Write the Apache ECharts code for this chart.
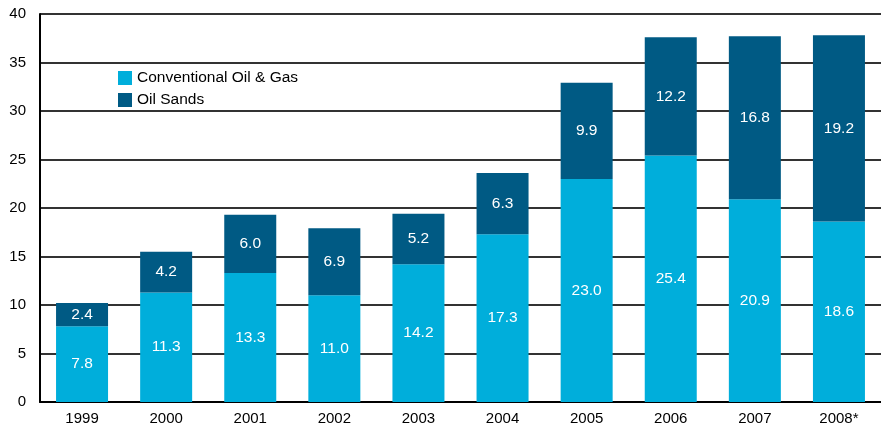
<!DOCTYPE html>
<html>
<head>
<meta charset="utf-8">
<title>Oil & Gas investment</title>
<script src="https://cdn.jsdelivr.net/npm/echarts@6/dist/echarts.min.js"></script>
<style>
	html, body { margin: 0; padding: 0; background: #fff; }
	#chart { width: 881px; height: 428px; }
</style>
</head>
<body>
<div id="chart"></div>
<script>
var years = ['1999', '2000', '2001', '2002', '2003', '2004', '2005', '2006', '2007', '2008*'];
var conventional = [7.8, 11.3, 13.3, 11.0, 14.2, 17.3, 23.0, 25.4, 20.9, 18.6];
var oilSands = [2.4, 4.2, 6.0, 6.9, 5.2, 6.3, 9.9, 12.2, 16.8, 19.2];

var fontFam = '"Liberation Sans", Arial, sans-serif';

function barLabel() {
	return {
		show: true,
		position: 'inside',
		color: '#fff',
		fontSize: 15.5,
		fontFamily: fontFam,
		formatter: function (p) { return p.value.toFixed(1); }
	};
}

var myChart = echarts.init(document.getElementById('chart'));
myChart.setOption({
	animation: false,
	grid: { left: 40, right: 0, top: 14, bottom: 26 },
	legend: {
		orient: 'vertical',
		left: 113,
		top: 65,
		itemWidth: 14,
		itemHeight: 14,
		itemGap: 6,
		icon: 'rect',
		textStyle: { fontSize: 15.5, color: '#000', fontFamily: fontFam },
		data: ['Conventional Oil & Gas', 'Oil Sands']
	},
	xAxis: {
		type: 'category',
		data: years,
		axisTick: { show: false },
		axisLine: { lineStyle: { color: '#000', width: 2 } },
		axisLabel: { color: '#000', fontSize: 15, fontFamily: fontFam, margin: 9 }
	},
	yAxis: {
		type: 'value',
		min: 0,
		max: 40,
		interval: 5,
		axisLine: { show: true, lineStyle: { color: '#000', width: 2 } },
		axisTick: { show: false },
		axisLabel: { color: '#000', fontSize: 15, fontFamily: fontFam, margin: 14 },
		splitLine: { lineStyle: { color: '#333', width: 2 } }
	},
	series: [
		{
			name: 'Conventional Oil & Gas',
			type: 'bar',
			stack: 'total',
			barWidth: 52,
			itemStyle: { color: '#00AEDB' },
			label: barLabel(),
			data: conventional
		},
		{
			name: 'Oil Sands',
			type: 'bar',
			stack: 'total',
			barWidth: 52,
			itemStyle: { color: '#005A84' },
			label: barLabel(),
			data: oilSands
		}
	]
});
</script>
</body>
</html>
